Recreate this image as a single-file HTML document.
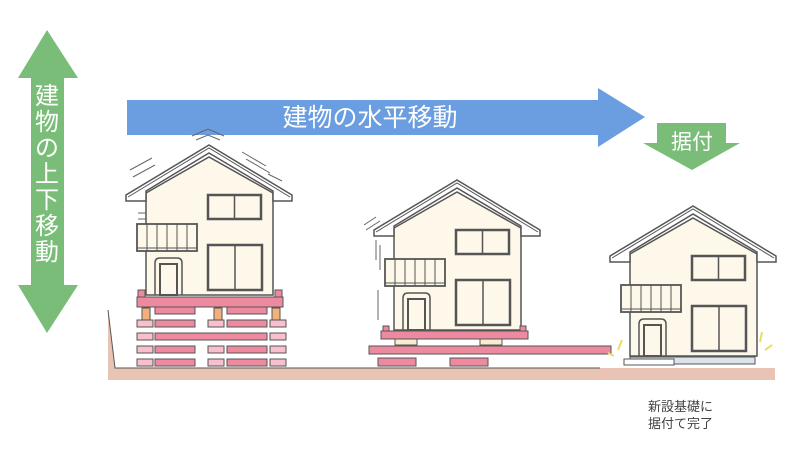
<!DOCTYPE html>
<html><head><meta charset="utf-8"><style>
body{margin:0;background:#fff;width:800px;height:450px;overflow:hidden}
svg{display:block}
text{font-family:"Liberation Sans","Noto Sans CJK JP",sans-serif}
</style></head><body>
<svg width="800" height="450" viewBox="0 0 800 450">
<defs>
<g id="house">
  <path d="M20 48 L83 12 L147 48 L147 150 L20 150 Z" fill="#fdf8ea" stroke="#555" stroke-width="1.5"/>
  <path d="M0 50 L83 0 L166 50 L166 56 L147 56 L147 46 L83 8 L20 46 L20 56 L0 56 Z" fill="#fff" stroke="#555" stroke-width="1.5"/>
  <path d="M2 52 L83 3 L164 52" fill="none" stroke="#555" stroke-width="1"/>
  <rect x="82" y="50" width="53" height="24" fill="#fdf8ea" stroke="#555" stroke-width="2.5"/>
  <line x1="108.5" y1="50" x2="108.5" y2="74" stroke="#555" stroke-width="1.5"/>
  <rect x="82" y="100" width="54" height="45" fill="#fdf8ea" stroke="#555" stroke-width="2.5"/>
  <line x1="109" y1="100" x2="109" y2="145" stroke="#555" stroke-width="1.5"/>
  <rect x="11" y="79" width="60" height="27" fill="#fdf8ea" stroke="#555" stroke-width="1.8"/>
  <path d="M21 79v27M31 79v27M41 79v27M51 79v27M61 79v27" stroke="#555" stroke-width="1"/>
  <line x1="11" y1="103" x2="71" y2="103" stroke="#555" stroke-width="1"/>
  <path d="M29 150 V118 Q29 113 34 113 H51 Q56 113 56 118 V150" fill="none" stroke="#555" stroke-width="1.5"/>
  <rect x="34" y="119" width="17" height="31" fill="#fdf8ea" stroke="#555" stroke-width="2"/>
</g>
</defs>

<!-- left vertical arrow -->
<polygon points="47,30 78,78 64,78 64,285 78,285 47,333 18,285 31,285 31,78 18,78" fill="#79bd78"/>
<g fill="#fff" font-size="24" text-anchor="middle">
<text x="47" y="104">建</text><text x="47" y="130">物</text><text x="47" y="156">の</text>
<text x="47" y="182">上</text><text x="47" y="208">下</text><text x="47" y="234">移</text><text x="47" y="260">動</text>
</g>

<!-- blue arrow -->
<polygon points="127,100 598,100 598,88 645,117 598,147 598,135 127,135" fill="#6a9ee0"/>
<text x="370" y="126" fill="#fff" font-size="25" text-anchor="middle">建物の水平移動</text>

<!-- green down arrow -->
<polygon points="657,123 726,123 726,143 740,143 692,170 643,143 657,143" fill="#79bd78"/>
<text x="692" y="149" fill="#fff" font-size="21" text-anchor="middle">据付</text>

<!-- ground -->
<path d="M108 310 L115 368 L775 368 L775 380 L108 380 Z" fill="#e9c4b4"/>
<path d="M108 310 L115 368 L600 368" fill="none" stroke="#555" stroke-width="1"/>

<!-- house 1 -->
<g stroke="#666" stroke-width="1" fill="none">
  <path d="M192 136l16-7 16 7M196 140l12-5 12 5M130 170l22-12M133 177l22-12M242 152l24 14M246 159l24 14M268 174l14 7"/>
  <path d="M170 193h28M175 186h18M225 237h26M225 243h26M138 213h16M160 213h22M138 219h16"/>
</g>
<use href="#house" x="126" y="145"/>
<g fill="#ee8aa0" stroke="#555" stroke-width="1">
  <rect x="137" y="297" width="146" height="10"/>
  <rect x="138" y="290" width="7" height="7"/><rect x="275" y="290" width="7" height="7"/>
  <rect x="142" y="308" width="8" height="14" fill="#f2b07a"/><rect x="214" y="308" width="8" height="14" fill="#f2b07a"/><rect x="272" y="308" width="8" height="14" fill="#f2b07a"/>
  <rect x="155" y="307" width="40" height="7"/><rect x="227" y="307" width="40" height="7"/>
  <rect x="155" y="320" width="40" height="7"/><rect x="227" y="320" width="40" height="7"/>
  <rect x="155" y="333" width="112" height="7"/>
  <rect x="155" y="346" width="40" height="7"/><rect x="227" y="346" width="40" height="7"/>
  <rect x="155" y="359" width="40" height="7"/><rect x="227" y="359" width="40" height="7"/>
  <rect x="137" y="320" width="16" height="7" fill="#f8c0cc"/><rect x="208" y="320" width="16" height="7" fill="#f8c0cc"/><rect x="270" y="320" width="16" height="7" fill="#f8c0cc"/>
  <rect x="137" y="333" width="16" height="7" fill="#f8c0cc"/><rect x="270" y="333" width="16" height="7" fill="#f8c0cc"/>
  <rect x="137" y="346" width="16" height="7" fill="#f8c0cc"/><rect x="208" y="346" width="16" height="7" fill="#f8c0cc"/><rect x="270" y="346" width="16" height="7" fill="#f8c0cc"/>
  <rect x="137" y="359" width="16" height="7" fill="#f8c0cc"/><rect x="208" y="359" width="16" height="7" fill="#f8c0cc"/><rect x="270" y="359" width="16" height="7" fill="#f8c0cc"/>
</g>

<!-- house 2 -->
<g stroke="#666" stroke-width="1" fill="none"><path d="M364 225l12-8M366 230l14-9M376 240v20M380 245v25M378 290v30"/></g>
<use href="#house" x="374" y="180"/>
<g fill="#ee8aa0" stroke="#555" stroke-width="1">
  <rect x="381" y="331" width="147" height="8"/>
  <rect x="383" y="326" width="6" height="5"/><rect x="520" y="326" width="6" height="5"/>
  <rect x="395" y="339" width="22" height="6" fill="#f5eecf"/><rect x="480" y="339" width="22" height="6" fill="#f5eecf"/>
  <rect x="369" y="346" width="242" height="8"/>
  <rect x="378" y="358" width="38" height="8"/><rect x="450" y="358" width="38" height="8"/>
</g>

<!-- house 3 -->
<use href="#house" x="610" y="206"/>
<rect x="630" y="357" width="125" height="7" fill="#dde3ea" stroke="#555" stroke-width="1"/>
<rect x="624" y="359" width="50" height="6" fill="#fff" stroke="#555" stroke-width="1"/>
<g stroke="#e8e060" stroke-width="2"><path d="M618 350l4-10M614 356l-6-3M760 342l2-10M765 350l7-5"/></g>

<text x="648" y="411" font-size="13" fill="#444">新設基礎に</text>
<text x="648" y="428" font-size="13" fill="#444">据付て完了</text>
</svg>
</body></html>
